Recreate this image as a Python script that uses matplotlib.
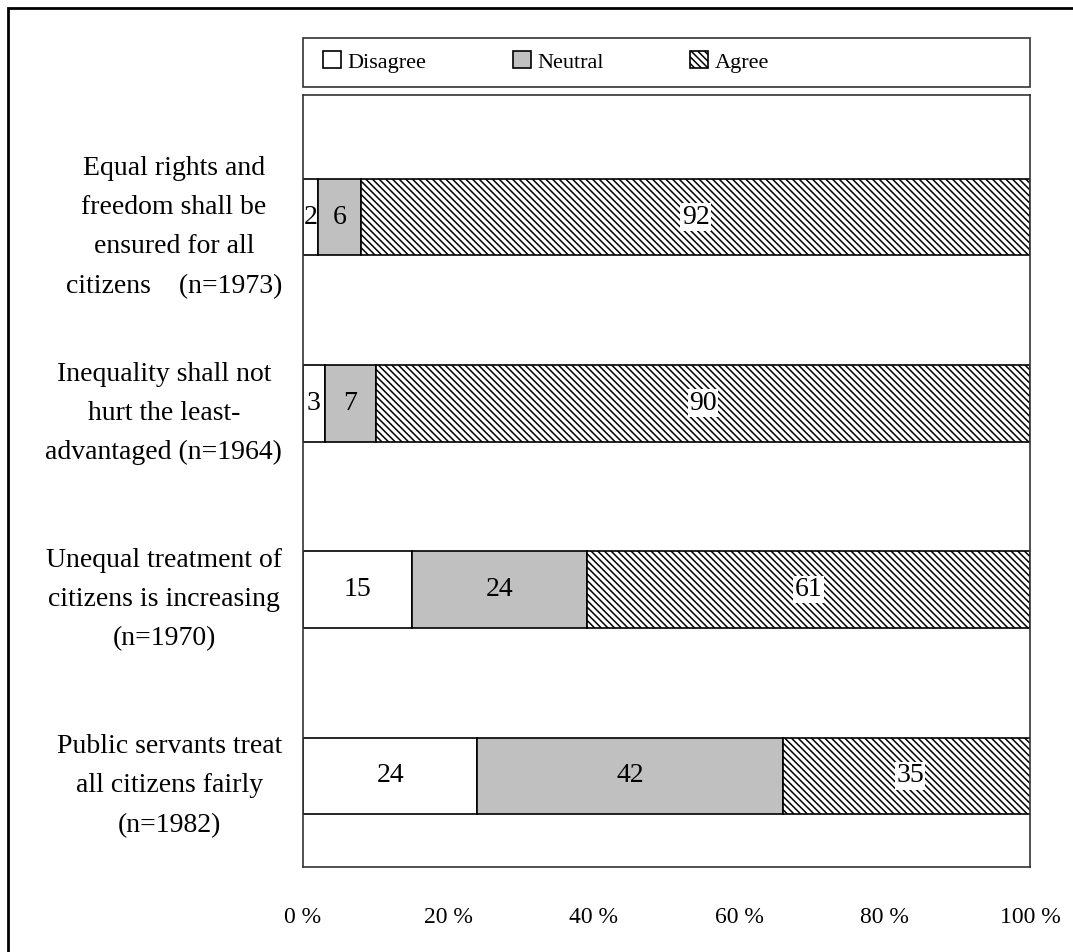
import numpy as np
import matplotlib.pyplot as plt
from matplotlib.patches import Rectangle

categories = [
    "Equal rights and\nfreedom shall be\nensured for all\ncitizens    (n=1973)",
    "Inequality shall not\nhurt the least-\nadvantaged (n=1964)",
    "Unequal treatment of\ncitizens is increasing\n(n=1970)",
    "Public servants treat\nall citizens fairly\n(n=1982)",
]
disagree = [2, 3, 15, 24]
neutral = [6, 7, 24, 42]
agree = [92, 90, 61, 35]
xticks = [0, 20, 40, 60, 80, 100]

plt.rcParams['font.family'] = ['Liberation Serif', 'DejaVu Serif']
plt.rcParams['hatch.linewidth'] = 1.1

W, H = 1073, 952
fig = plt.figure(figsize=(W / 100, H / 100), dpi=100)
ax = fig.add_axes([303 / W, 1 - 867 / H, 727 / W, 772 / H])

y = np.arange(len(categories))
bh = 0.41
series = [
    ("Disagree", disagree, dict(color="white", hatch=None)),
    ("Neutral", neutral, dict(color="#c0c0c0", hatch=None)),
    ("Agree", agree, dict(color="white", hatch="\\\\\\\\\\")),
]
left = np.zeros(len(categories))
handles = []
for name, vals, st in series:
    vals = np.asarray(vals, dtype=float)
    bars = ax.barh(y, vals, left=left, height=bh, color=st["color"], hatch=st["hatch"],
                   edgecolor="black", linewidth=1.2, label=name)
    handles.append(bars)
    for yi, l, v in zip(y, left, vals):
        bbox = dict(facecolor="white", edgecolor="none", pad=1) if st["hatch"] else None
        ax.text(l + v / 2, yi, str(int(v)), ha="center", va="center", fontsize=20, bbox=bbox)
    left += vals

ax.set_xlim(0, 100)
ax.set_ylim(3.49, -0.656)
ax.set_xticks(xticks)
ax.set_xticklabels([f"{t} %" for t in xticks], fontsize=17)
ax.set_yticks(y)
ax.set_yticklabels(categories, fontsize=20, multialignment="center", linespacing=1.75)
ax.tick_params(axis="x", length=0, pad=29)
ax.tick_params(axis="y", length=0, pad=15)
for s in ax.spines.values():
    s.set_color("#333333")
    s.set_linewidth(1.2)

leg = fig.legend(handles=handles, loc="center", bbox_to_anchor=(546 / W, 1 - 62 / H),
                 ncol=3, frameon=False, fontsize=16, handlelength=0.8, handleheight=0.8,
                 handletextpad=0.3, columnspacing=3.9)

# legend box and outer frame
fig.patches.append(Rectangle((303 / W, 1 - 87 / H), 727 / W, 49 / H, transform=fig.transFigure,
                             fill=False, edgecolor="#333333", linewidth=1.2))
fig.patches.append(Rectangle((8 / W, -0.05), 1.1, 1 - 8 / H + 0.05, transform=fig.transFigure,
                             fill=False, edgecolor="black", linewidth=2))

fig.savefig("out.png", dpi=100, facecolor="white")
